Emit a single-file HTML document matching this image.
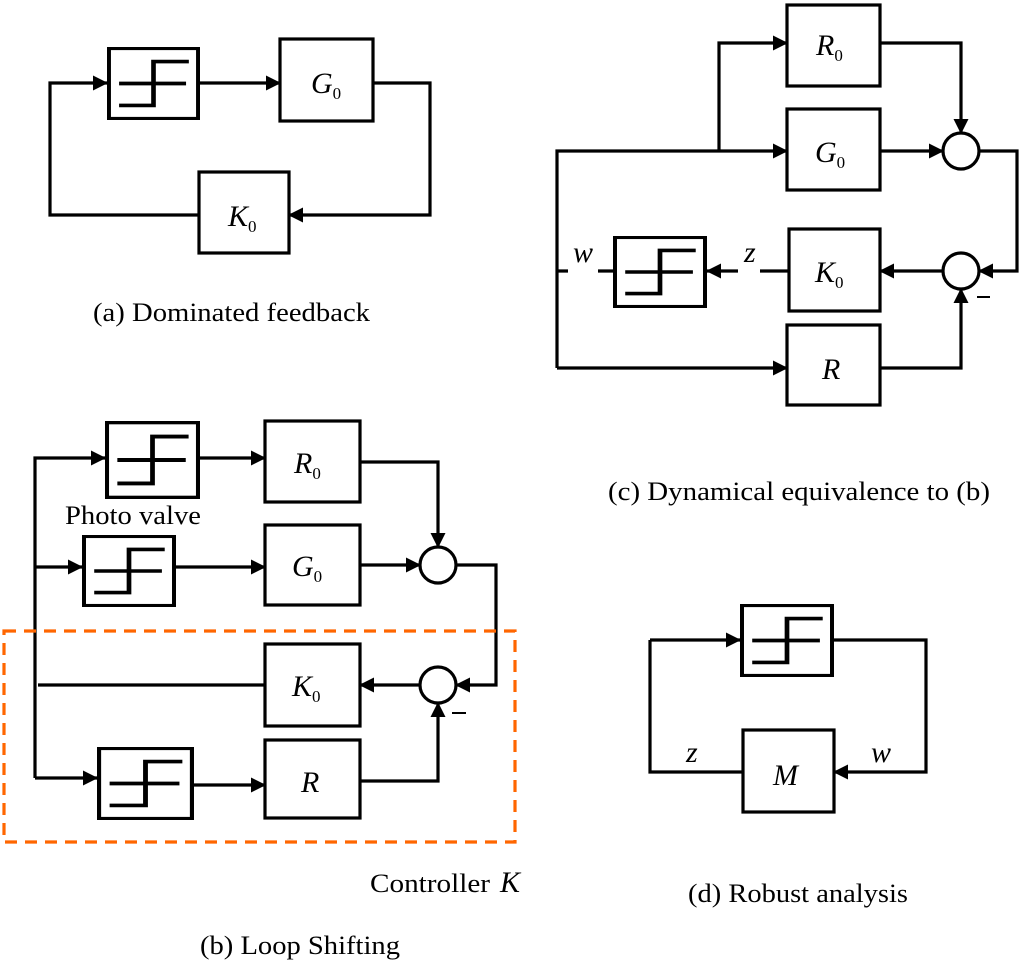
<!DOCTYPE html>
<html><head><meta charset="utf-8"><style>
html,body{margin:0;padding:0;background:#fff;}
svg{display:block;}
text{font-family:"Liberation Serif",serif;fill:#000;}
.l{font-style:italic;font-size:30px;}
.s{font-size:17px;font-style:normal;}
.c{font-size:26px;}
</style></head><body>
<svg width="1024" height="961" viewBox="0 0 1024 961" xmlns="http://www.w3.org/2000/svg">
<defs>
<marker id="a" markerWidth="15" markerHeight="15" refX="14" refY="7.5" orient="auto" markerUnits="userSpaceOnUse">
<path d="M0,0 L15,7.5 L0,15 Z" fill="#000"/></marker>
<symbol id="nl" viewBox="0 0 100 100" preserveAspectRatio="none">
<rect x="2" y="2" width="96" height="96" fill="#fff" stroke="#000" stroke-width="4.5"/>
<path d="M13,50 H85 M13,80 H50 V20 H88" fill="none" stroke="#000" stroke-width="5"/>
</symbol>
</defs>
<g fill="none" stroke="#000" stroke-width="3.2">
<!-- (a) -->
<path d="M200,83 H280" marker-end="url(#a)"/>
<path d="M373,83 H430 V215 H289" marker-end="url(#a)"/>
<path d="M199,215 H50 V83 H107" marker-end="url(#a)"/>
<rect x="280" y="39" width="93" height="82"/>
<rect x="199" y="172" width="90" height="81"/>
<!-- (c) -->
<path d="M557,368 V151 H787" marker-end="url(#a)"/>
<path d="M719,151 V43 H787" marker-end="url(#a)"/>
<path d="M880,43 H961 V133" marker-end="url(#a)"/>
<path d="M880,151 H943" marker-end="url(#a)"/>
<path d="M979,151 H1017 V271 H979" marker-end="url(#a)"/>
<path d="M943,271 H880" marker-end="url(#a)"/>
<path d="M557,368 H787" marker-end="url(#a)"/>
<path d="M880,368 H961 V289" marker-end="url(#a)"/>
<path d="M557,271 H568 M598,271 H613 M760,271 H789"/>
<path d="M738,271 H707" marker-end="url(#a)"/>
<circle cx="961" cy="151" r="18"/>
<circle cx="961" cy="271" r="18"/>
<rect x="787" y="5" width="93" height="81"/>
<rect x="787" y="109" width="93" height="81"/>
<rect x="789" y="229" width="91" height="82"/>
<rect x="787" y="325" width="93" height="80"/>
<path d="M977,297 H990" stroke-width="2"/>
<!-- (b) -->
<path d="M35,778 V458 H105" marker-end="url(#a)"/>
<path d="M35,567 H82" marker-end="url(#a)"/>
<path d="M35,778 H97" marker-end="url(#a)"/>
<path d="M200,458 H265" marker-end="url(#a)"/>
<path d="M176,567 H265" marker-end="url(#a)"/>
<path d="M194,785 H265" marker-end="url(#a)"/>
<path d="M360,462 H438 V547" marker-end="url(#a)"/>
<path d="M360,565 H420" marker-end="url(#a)"/>
<path d="M456,565 H496 V685 H456" marker-end="url(#a)"/>
<path d="M420,685 H360" marker-end="url(#a)"/>
<path d="M265,685 H38"/>
<path d="M360,781 H438 V703" marker-end="url(#a)"/>
<circle cx="438" cy="565" r="18"/>
<circle cx="438" cy="685" r="18"/>
<rect x="265" y="421" width="95" height="81"/>
<rect x="265" y="525" width="95" height="80"/>
<rect x="265" y="644" width="95" height="82"/>
<rect x="265" y="740" width="95" height="78"/>
<path d="M452,713 H466" stroke-width="2"/>
<rect x="4" y="631" width="511" height="211" stroke="#ff6600" stroke-dasharray="12,8"/>
<!-- (d) -->
<path d="M650,640 H740" marker-end="url(#a)"/>
<path d="M834,640 H926 V772 H834" marker-end="url(#a)"/>
<path d="M743,772 H650 V640"/>
<rect x="743" y="730" width="91" height="82"/>
</g>
<use href="#nl" x="107" y="47" width="93" height="73"/>
<use href="#nl" x="613" y="236" width="94" height="72"/>
<use href="#nl" x="105" y="421" width="95" height="78"/>
<use href="#nl" x="82" y="535" width="94" height="72"/>
<use href="#nl" x="97" y="747" width="97" height="73"/>
<use href="#nl" x="740" y="604" width="94" height="73"/>
<!-- labels -->
<text class="l" x="311" y="93">G<tspan class="s" dy="6">0</tspan></text>
<text class="l" x="228" y="226">K<tspan class="s" dy="6">0</tspan></text>
<text class="c" x="93" y="321" textLength="277" lengthAdjust="spacingAndGlyphs">(a) Dominated feedback</text>
<text class="l" x="816" y="55">R<tspan class="s" dy="6">0</tspan></text>
<text class="l" x="815" y="162">G<tspan class="s" dy="6">0</tspan></text>
<text class="l" x="815" y="282">K<tspan class="s" dy="6">0</tspan></text>
<text class="l" x="822" y="379">R</text>
<text class="l" x="573" y="262">w</text>
<text class="l" x="744" y="262">z</text>
<text class="c" x="608" y="500" textLength="382" lengthAdjust="spacingAndGlyphs">(c) Dynamical equivalence to (b)</text>
<text class="l" x="294" y="473">R<tspan class="s" dy="6">0</tspan></text>
<text class="l" x="292" y="576">G<tspan class="s" dy="6">0</tspan></text>
<text class="l" x="292" y="696">K<tspan class="s" dy="6">0</tspan></text>
<text class="l" x="301" y="792">R</text>
<text class="c" x="65" y="524" textLength="136" lengthAdjust="spacingAndGlyphs">Photo valve</text>
<text class="c" x="370" y="892" textLength="120" lengthAdjust="spacingAndGlyphs">Controller</text>
<text class="l" x="500" y="892">K</text>
<text class="c" x="200" y="954" textLength="200" lengthAdjust="spacingAndGlyphs">(b) Loop Shifting</text>
<text class="l" x="773" y="785">M</text>
<text class="l" x="686" y="762">z</text>
<text class="l" x="871" y="762">w</text>
<text class="c" x="688" y="902" textLength="220" lengthAdjust="spacingAndGlyphs">(d) Robust analysis</text>
</svg>
</body></html>
